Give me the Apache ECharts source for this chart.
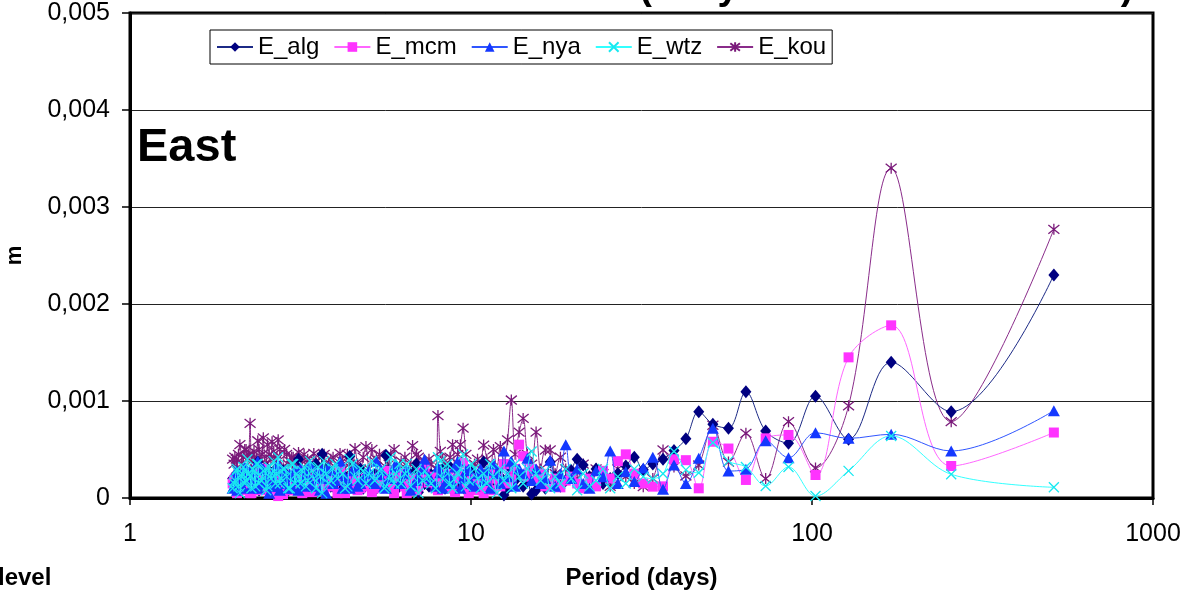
<!DOCTYPE html>
<html>
<head>
<meta charset="utf-8">
<script src="https://cdn.jsdelivr.net/npm/echarts/dist/echarts.min.js"></script>
<style>
  html, body { margin: 0; padding: 0; background: #fff; }
  #chart { width: 1182px; height: 591px; }
</style>
</head>
<body>
<div id="chart"></div>
<script>
// Spectral periods (days) of the East component
const periods = [512, 256, 170.67, 128, 102.4, 85.33, 73.14, 64, 56.89, 51.2, 46.55, 42.67, 39.38, 36.57, 34.13, 32,
  30.12, 28.44, 26.95, 25.6, 24.38, 23.27, 22.26, 21.33, 20.48, 19.69, 18.96, 18.29, 17.66, 17.07, 16.52, 16,
  15.52, 15.06, 14.63, 14.22, 13.84, 13.47, 13.13, 12.8, 12.49, 12.19, 11.91, 11.64, 11.38, 11.13, 10.89, 10.67,
  10.24, 9.85, 9.48, 9.14, 8.83, 8.53, 8.26, 8, 7.64, 7.31, 7.01, 6.74, 6.48, 6.24, 6.02, 5.82, 5.63, 5.45, 5.28, 5.12,
  4.92, 4.74, 4.57, 4.41, 4.27, 4.13, 4, 3.88, 3.76, 3.66, 3.56, 3.46, 3.37, 3.28, 3.2, 3.12, 3.05,
  2.98, 2.91, 2.84, 2.78, 2.72, 2.67, 2.61, 2.56, 2.51, 2.46, 2.42, 2.37, 2.33, 2.29, 2.25, 2.21, 2.17, 2.13, 2.1, 2.06, 2.03, 2];

// Further short periods (days) filling the high-frequency band
const periodsFine = [10.45, 10.04, 9.66, 9.31, 8.98, 8.68, 8.39, 8.13, 7.88, 7.53, 7.21, 6.92, 6.65, 6.4, 6.17, 5.95, 5.75, 5.57, 5.39, 5.22, 5.02,
  4.83, 4.65, 4.49, 4.34, 4.2, 4.06, 3.94, 3.82, 3.71, 3.61, 3.51, 3.41, 3.32, 3.24, 3.16, 3.08, 3.01, 2.94,
  2.88, 2.81, 2.75, 2.69, 2.64, 2.59, 2.53, 2.49, 2.44, 2.39, 2.35, 2.31, 2.27, 2.23, 2.19, 2.15, 2.12, 2.08, 2.05, 2.02];

// Amplitudes (m) per station, same order as periods
const eAlg = [0.0023, 0.00089, 0.0014, 0.000605, 0.00105, 0.000565, 0.00069, 0.001095, 0.00072, 0.00076, 0.00089, 0.00061, 0.00049, 0.0004, 0.00035, 0.00029,
  0.00042, 0.00033, 0.00025, 0.0002, 0.00015, 0.0003, 0.00022, 0.00034, 0.0004, 0.00028, 0.00018, 0.00012, 0.00022, 0.00037, 0.0001, 0.0002,
  0.00008, 0.00004, 0.0002, 0.00012, 0.00025, 0.00018, 0.0003, 0.0001, 0.00003, 0.00022, 0.00015, 0.00028, 0.00012, 0.0002, 0.00037, 0.00015,
  0.0001, 0.00022, 0.00012, 0.00028, 0.00008, 0.00018, 0.0003, 0.00012, 0.00024, 0.00015, 0.00006, 0.00026, 0.00012, 0.0002, 0.00008, 0.00022, 0.00044, 0.00016, 0.0001, 0.00022,
  0.00015, 0.0003, 0.0001, 0.00043, 0.0002, 0.00008, 0.00024, 0.00012, 0.0003, 0.00045, 0.00016, 0.00022, 0.0001, 0.00026, 0.00014, 0.0004, 0.00012, 0.0002, 0.00008, 0.00024,
  0.00016, 0.0001, 0.0003, 0.00014, 0.00022, 0.00008, 0.00026, 0.00012, 0.00037, 0.0002, 0.0001, 0.00024, 0.00015, 0.0002, 0.00008, 0.00018, 0.00025, 0.00012, 0.0002];

const eMcm = [0.000675, 0.00033, 0.00178, 0.00145, 0.000237, 0.00065, 0.000615, 0.000186, 0.00051, 0.00058, 0.0001, 0.00039, 0.0004, 0.00012, 0.000117, 0.00015,
  0.00025, 0.00045, 0.00038, 0.0002, 0.00028, 0.00012, 0.0002, 0.0001, 0.00015, 0.00022, 0.00018, 0.00011, 0.0002, 0.00015, 0.00012, 0.00025,
  0.00018, 0.0003, 0.00022, 0.00043, 0.00055, 0.0003, 0.0002, 0.00015, 0.00035, 0.00012, 0.0002, 0.00008, 0.00025, 0.00015, 0.00005, 0.00018,
  0.00012, 0.00005, 0.00036, 0.0002, 0.0001, 0.00025, 0.00015, 0.00008, 0.00022, 0.0003, 0.00012, 0.00018, 0.00005, 0.00025, 0.00015, 0.0001, 0.00028, 0.0002, 0.00012, 0.00006,
  0.0002, 0.0001, 0.00025, 0.00015, 0.00005, 0.0003, 0.00018, 0.00012, 0.00022, 0.00008, 0.00026, 0.00015, 0.0001, 0.0002, 0.00005, 0.00028, 0.00012, 0.00018, 0.00008, 0.00022,
  0.00015, 0.00002, 0.00025, 0.00012, 0.00018, 0.0001, 0.0003, 0.00015, 0.00008, 0.0002, 0.00012, 0.00005, 0.00018, 0.00025, 0.0001, 0.00015, 0.00005, 0.0002, 0.00015];

const eNya = [0.0009, 0.000485, 0.000657, 0.000615, 0.000673, 0.000415, 0.00059, 0.000296, 0.000278, 0.00072, 0.00041, 0.00015, 0.00034, 0.00009, 0.00042, 0.00031,
  0.00017, 0.00027, 0.00015, 0.000485, 0.00022, 0.00028, 0.0001, 0.00015, 0.0003, 0.0002, 0.00055, 0.00025, 0.00012, 0.00039, 0.0002, 0.00015,
  0.0003, 0.00018, 0.00041, 0.00025, 0.0003, 0.00012, 0.00038, 0.00022, 0.000485, 0.00015, 0.00025, 0.00035, 0.0001, 0.00028, 0.00018, 0.0003,
  0.00012, 0.0003, 0.0002, 0.00038, 0.00015, 0.00025, 0.0001, 0.00032, 0.00018, 0.0004, 0.00022, 0.00012, 0.0003, 0.00015, 0.00035, 0.0002, 0.0001, 0.00028, 0.00038, 0.00018,
  0.00025, 0.00015, 0.00032, 0.0001, 0.00022, 0.00038, 0.00018, 0.00028, 0.00005, 0.0003, 0.0002, 0.00012, 0.00035, 0.00025, 0.00015, 0.00008, 0.0003, 0.00022, 0.0001, 0.00028,
  0.00018, 0.00035, 0.00012, 0.00025, 0.00005, 0.0002, 0.0003, 0.00015, 0.00038, 0.00022, 0.0001, 0.00028, 0.00018, 0.00032, 0.00012, 0.00025, 0.00008, 0.0002, 0.0001];

const eWtz = [0.00011, 0.000244, 0.00064, 0.00028, 0.00002, 0.00032, 0.000124, 0.00032, 0.00038, 0.00057, 0.00026, 0.00029, 0.00048, 0.00025, 0.0002, 0.00022,
  0.0003, 0.00015, 0.00022, 0.0001, 0.0003, 0.00018, 0.00012, 0.00025, 0.00008, 0.0002, 0.0003, 0.00015, 0.00022, 0.0001, 0.00028, 0.00018,
  0.00025, 0.00048, 0.0003, 0.00015, 0.00022, 0.00035, 0.0001, 0.00025, 0.00018, 0.0003, 0.00005, 0.00022, 0.00035, 0.00015, 0.00025, 0.0001,
  0.0003, 0.00018, 0.00045, 0.00025, 0.0001, 0.00035, 0.0002, 0.00042, 0.00015, 0.00028, 0.00005, 0.00022, 0.00035, 0.00015, 0.00025, 0.00042, 0.00012, 0.0003, 0.0002, 0.00038,
  0.00015, 0.0003, 0.00022, 0.0004, 0.0001, 0.00028, 0.00035, 0.00018, 0.00025, 0.00005, 0.00032, 0.0002, 0.00038, 0.00012, 0.00028, 0.00022, 0.00015, 0.00035, 0.0001, 0.0003,
  0.0002, 0.00042, 0.00015, 0.00025, 0.00032, 0.00008, 0.00028, 0.00018, 0.00035, 0.00012, 0.0003, 0.00022, 0.0004, 0.00015, 0.00025, 0.00005, 0.0003, 0.00018, 0.0001];

const eKou = [0.00277, 0.000787, 0.0034, 0.00095, 0.00031, 0.000787, 0.0002, 0.000667, 0.00037, 0.00075, 0.00034, 0.000227, 0.00032, 0.000495, 0.0002, 0.000117,
  0.00015, 0.00022, 0.0003, 0.00012, 0.00025, 0.0003, 0.00018, 0.00035, 0.0002, 0.00028, 0.0003, 0.00042, 0.00025, 0.000495, 0.000495, 0.0003,
  0.00068, 0.00035, 0.00045, 0.00082, 0.00068, 0.00045, 0.00101, 0.0006, 0.00035, 0.00053, 0.0003, 0.0005, 0.00025, 0.0004, 0.000546, 0.0003,
  0.00035, 0.00025, 0.00072, 0.00045, 0.00055, 0.0003, 0.0004, 0.00085, 0.00035, 0.00025, 0.00042, 0.00054, 0.0003, 0.00038, 0.00028, 0.00045, 0.00032, 0.00025, 0.0004, 0.0005,
  0.00053, 0.0003, 0.00051, 0.00035, 0.00025, 0.00046, 0.00032, 0.0004, 0.00028, 0.00042, 0.0003, 0.00046, 0.00035, 0.00025, 0.00038, 0.00047, 0.0003, 0.00042, 0.00035, 0.0005,
  0.0003, 0.0006, 0.00038, 0.00058, 0.00045, 0.00035, 0.00062, 0.0004, 0.00059, 0.0003, 0.00045, 0.00077, 0.0004, 0.0005, 0.00035, 0.00055, 0.0003, 0.00042, 0.0004];

// Amplitudes (m) at the periods in periodsFine
const eAlgFine = [0.00012, 0.00028, 0.00008, 0.0002, 0.00015, 0.00032, 0.0001, 0.00018, 0.00025, 0.00012, 0.0002, 0.00035, 0.00008, 0.00015, 0.00022, 0.0001, 0.00028, 0.00018, 0.00012, 0.00024, 0.00015,
  0.0001, 0.00022, 0.00016, 0.00008, 0.00025, 0.00018, 0.00012, 0.00028, 0.0002, 0.0001, 0.00035, 0.00015, 0.00022, 0.00008, 0.00018, 0.00026, 0.00012, 0.0002,
  0.00015, 0.00028, 0.0001, 0.00022, 0.00018, 0.00012, 0.0003, 0.00015, 0.0002, 0.00008, 0.00024, 0.00016, 0.0001, 0.00022, 0.00028, 0.00012, 0.00018, 0.00025, 0.0001, 0.00015];

const eMcmFine = [0.00008, 0.0002, 0.00015, 0.00025, 0.00006, 0.00018, 0.00012, 0.00022, 0.0001, 0.00016, 0.00026, 0.00008, 0.0002, 0.00012, 0.00018, 0.00005, 0.00022, 0.00014, 0.0001, 0.0002, 0.00012,
  0.00015, 0.00008, 0.0002, 0.00012, 0.00018, 0.00005, 0.00022, 0.00014, 0.0001, 0.00025, 0.00012, 0.00006, 0.0002, 0.00015, 0.0001, 0.00024, 0.00008, 0.00018,
  0.00012, 0.00004, 0.0002, 0.00015, 0.0001, 0.00022, 0.00008, 0.00018, 0.00012, 0.00025, 0.0001, 0.00016, 0.00005, 0.0002, 0.00012, 0.00008, 0.00022, 0.00015, 0.0001, 0.00018];

const eNyaFine = [0.00025, 0.00015, 0.00028, 0.0001, 0.00032, 0.0002, 0.00015, 0.00026, 0.00012, 0.00022, 0.0003, 0.00018, 0.00008, 0.00025, 0.00015, 0.00032, 0.0002, 0.00012, 0.00024, 0.00015, 0.00028,
  0.0002, 0.00012, 0.00028, 0.00018, 0.0001, 0.00025, 0.00015, 0.00032, 0.0002, 0.00008, 0.00026, 0.00015, 0.00022, 0.00012, 0.0003, 0.00018, 0.0001, 0.00025,
  0.00015, 0.00022, 0.00008, 0.00028, 0.00018, 0.00012, 0.00024, 0.00015, 0.0003, 0.0001, 0.0002, 0.00026, 0.00012, 0.00018, 0.00025, 0.0001, 0.00022, 0.00015, 0.00028, 0.00012];

const eWtzFine = [0.0002, 0.00035, 0.00012, 0.0003, 0.0002, 0.00015, 0.00028, 0.00038, 0.0001, 0.00022, 0.00018, 0.0003, 0.00012, 0.00025, 0.00035, 0.00015, 0.00022, 0.0001, 0.00028, 0.00018, 0.00025,
  0.00028, 0.00018, 0.00035, 0.00012, 0.00025, 0.0002, 0.0003, 0.00015, 0.00038, 0.00022, 0.0001, 0.00028, 0.00018, 0.00032, 0.00015, 0.00025, 0.00035, 0.0001,
  0.00022, 0.0003, 0.00015, 0.00025, 0.00038, 0.0002, 0.00012, 0.0003, 0.00022, 0.00015, 0.00035, 0.00028, 0.0001, 0.00025, 0.00018, 0.00032, 0.00022, 0.00012, 0.00028, 0.00015];

const eKouFine = [0.0004, 0.0003, 0.00045, 0.00055, 0.0003, 0.00042, 0.00035, 0.00048, 0.0003, 0.0004, 0.00032, 0.00045, 0.00035, 0.00042, 0.0003, 0.0005, 0.00035, 0.00028, 0.00045, 0.00038, 0.0003,
  0.00042, 0.00035, 0.0003, 0.00045, 0.00038, 0.0003, 0.00042, 0.00035, 0.00045, 0.0003, 0.00038, 0.00032, 0.0004, 0.00045, 0.0003, 0.00035, 0.00042, 0.00038,
  0.00045, 0.0003, 0.0005, 0.0004, 0.00048, 0.0004, 0.00055, 0.00035, 0.00045, 0.0005, 0.0004, 0.00048, 0.00038, 0.00045, 0.0005, 0.00042, 0.00035, 0.00045, 0.0004, 0.00035];

const seriesNames = ['E_alg', 'E_mcm', 'E_nya', 'E_wtz', 'E_kou'];
const xTickValues = [1, 10, 100, 1000];

const FONT = '"Liberation Sans", Arial, sans-serif';
const CROSS = 'path://M0,0L10,10M10,0L0,10';
const STAR = 'path://M1,1L9,9M9,1L1,9M5,0L5,10';

const styles = [
  { data: eAlg, fine: eAlgFine, color: '#000080', line: '#1c2a86', symbol: 'diamond', size: [11, 13], stroke: false, z: 3 },
  { data: eMcm, fine: eMcmFine, color: '#ff33ff', line: '#ff66ff', symbol: 'rect', size: 10, stroke: false, z: 4 },
  { data: eNya, fine: eNyaFine, color: '#1438ff', line: '#2f55ff', symbol: 'triangle', size: [12, 11], stroke: false, z: 5 },
  { data: eWtz, fine: eWtzFine, color: '#18e8f0', line: '#33ffff', symbol: CROSS, size: 10, stroke: true, z: 6 },
  { data: eKou, fine: eKouFine, color: '#7a1a7a', line: '#8a2c8a', symbol: STAR, size: 11, stroke: true, z: 2 }
];

// Merge both period sets into one descending sequence per station
function pairs(main, fine) {
  return periods.map((p, j) => [p, main[j]])
    .concat(periodsFine.map((p, j) => [p, fine[j]]))
    .sort((a, b) => b[0] - a[0]);
}

const series = styles.map((s, i) => ({
  name: seriesNames[i],
  type: 'line',
  data: pairs(s.data, s.fine),
  smooth: 0.35,
  symbol: s.symbol,
  symbolSize: s.size,
  showAllSymbol: true,
  z: s.z,
  lineStyle: { color: s.line, width: 1 },
  itemStyle: s.stroke
    ? { color: s.color, borderColor: s.color, borderWidth: 1.3 }
    : { color: s.color, borderWidth: 0 },
  emphasis: { disabled: true }
}));

const chart = echarts.init(document.getElementById('chart'), null, { renderer: 'canvas' });
chart.setOption({
  animation: false,
  backgroundColor: '#ffffff',
  grid: {
    left: 130, right: 29, top: 13, bottom: 93,
    outerBoundsMode: 'none', containLabel: false,
    show: true, borderColor: '#000', borderWidth: 3, backgroundColor: 'transparent'
  },
  legend: {
    data: seriesNames,
    left: 210, top: 30,
    itemWidth: 36, itemHeight: 12, itemGap: 14,
    padding: [5, 6],
    borderColor: '#000', borderWidth: 1, backgroundColor: '#fff',
    textStyle: { fontFamily: FONT, fontSize: 24, color: '#000' }
  },
  xAxis: {
    type: 'log', logBase: 10, min: 1, max: 1000,
    name: 'Period (days)', nameLocation: 'middle', nameGap: 68,
    nameTextStyle: { fontFamily: FONT, fontSize: 24, fontWeight: 'bold', color: '#000' },
    axisLine: { show: true, lineStyle: { color: '#000', width: 3 } },
    axisTick: { show: true, length: 7, lineStyle: { color: '#000', width: 1.5 } },
    minorTick: { show: false },
    splitLine: { show: false },
    axisLabel: {
      fontFamily: FONT, fontSize: 25, color: '#000', margin: 24,
      formatter: v => String(xTickValues.find(t => Math.abs(t - v) < 1e-6 * t) || Math.round(v))
    }
  },
  yAxis: {
    type: 'value', min: 0, max: 0.005, interval: 0.001,
    name: 'm', nameLocation: 'middle', nameGap: 104, nameRotate: 90,
    nameTextStyle: { fontFamily: FONT, fontSize: 22, fontWeight: 'bold', color: '#000' },
    axisLine: { show: true, lineStyle: { color: '#000', width: 3 } },
    axisTick: { show: true, length: 8, lineStyle: { color: '#000', width: 1.5 } },
    splitLine: { show: true, lineStyle: { color: '#222', width: 1 } },
    axisLabel: {
      fontFamily: FONT, fontSize: 25, color: '#000', margin: 20,
      formatter: v => (v === 0 ? '0' : v.toFixed(3).replace('.', ','))
    }
  },
  graphic: [
    {
      type: 'text', x: 443, y: -11, z: 10,
      style: { text: 'Horizontal (daily coordinate residuals)', fill: '#000',
        font: 'bold 38px ' + FONT, align: 'left', verticalAlign: 'middle' }
    },
    {
      type: 'text', x: 137, y: 148, z: 10,
      style: { text: 'East', fill: '#000', font: 'bold 47px ' + FONT, align: 'left', verticalAlign: 'middle' }
    },
    {
      type: 'text', x: -2, y: 578, z: 10,
      style: { text: 'level', fill: '#000', font: 'bold 24px ' + FONT, align: 'left', verticalAlign: 'middle' }
    }
  ],
  series: series
});
</script>
</body>
</html>
